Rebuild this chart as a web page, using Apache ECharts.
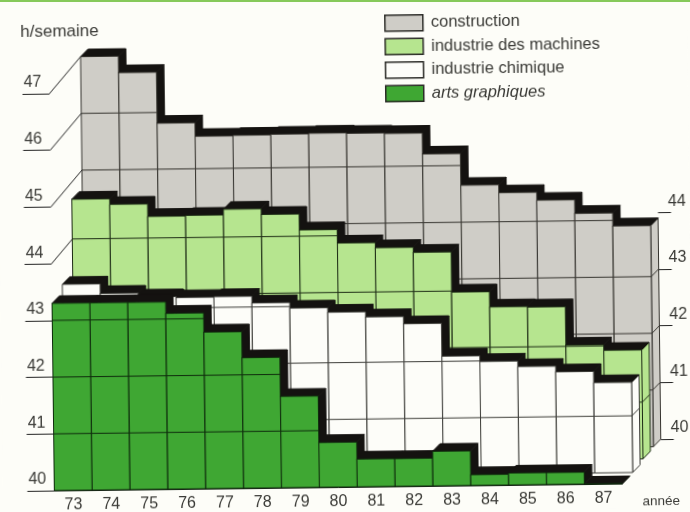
<!DOCTYPE html>
<html lang="fr">
<head>
<meta charset="utf-8">
<title>Durée du travail</title>
<script src="https://cdn.jsdelivr.net/npm/echarts@6/dist/echarts.min.js"></script>
<style>
    html, body { margin: 0; padding: 0; width: 690px; height: 512px; overflow: hidden; background: #fdfdf8; }
    /* le document scanné est légèrement de travers */
    #main { width: 690px; height: 512px; transform: rotate(-0.7deg); transform-origin: 345px 256px; }
    #strip { position: absolute; left: 0; top: 0; width: 690px; height: 2px; background: #86c95a; }
</style>
</head>
<body>
<div id="main"></div>
<div id="strip"></div>
<script type="text/javascript">
    // données
    var years = ['73', '74', '75', '76', '77', '78', '79', '80', '81', '82', '83', '84', '85', '86', '87'];
    var construction = [47.0, 46.71, 45.81, 45.57, 45.58, 45.59, 45.6, 45.59, 45.58, 45.21, 44.65, 44.51, 44.37, 44.13, 43.9];
    var machines = [44.7, 44.6, 44.38, 44.39, 44.49, 44.39, 44.11, 43.87, 43.78, 43.69, 42.98, 42.71, 42.7, 42.02, 41.92];
    var chimique = [43.44, 43.27, 43.2, 43.18, 43.19, 43.07, 42.97, 42.89, 42.8, 42.67, 42.09, 41.99, 41.89, 41.79, 41.59];
    var graphiques = [43.3, 43.3, 43.3, 43.1, 42.76, 42.3, 41.61, 40.79, 40.49, 40.49, 40.61, 40.19, 40.21, 40.21, 40.0];
    var gridValues = [41, 42, 43, 44, 45, 46, 47];
    var leftTicks = [40, 41, 42, 43, 44, 45, 46, 47];
    var leaderTicks = [44, 45, 46, 47];
    var rightTicks = [40, 41, 42, 43, 44];

    var baseX = 51.5, baseY = 487, plotW = 568, plotH = 397;
    var depth = 7.5;
    var black = '#141210';

    function gridAt(dx, dy) {
        return { left: baseX + dx, top: baseY + dy - plotH, width: plotW, height: plotH };
    }

    // une barre : face avant, dessus noir, côté noir (ou clair pour la dernière)
    function barRenderer(fill, line) {
        return function (params, api) {
            var i = api.value(0), v = api.value(1);
            var w = api.size([1, 0])[0];
            var top = api.coord([i, v]);
            var bot = api.coord([i, 40]);
            var x0 = top[0] - w / 2, x1 = top[0] + w / 2, y = top[1], yb = bot[1];
            var last = params.dataIndex === years.length - 1;
            var kids = [];
            kids.push({
                type: 'polygon',
                shape: { points: [[x1, y], [x1 + depth, y - depth], [x1 + depth, yb - depth], [x1, yb]] },
                style: { fill: last ? fill : black, stroke: last ? line : black, lineWidth: 1 }
            });
            kids.push({
                type: 'polygon',
                shape: { points: [[x0, y], [x0 + depth, y - depth], [x1 + depth, y - depth], [x1, y]] },
                style: { fill: black, stroke: black, lineWidth: 1 }
            });
            kids.push({
                type: 'rect',
                shape: { x: x0, y: y, width: x1 - x0, height: yb - y },
                style: { fill: fill, stroke: line, lineWidth: 1 }
            });
            gridValues.forEach(function (g) {
                if (g >= v) return;
                var gy = api.coord([i, g])[1];
                kids.push({
                    type: 'line',
                    shape: { x1: x0, y1: gy, x2: x1, y2: gy },
                    style: { stroke: line, lineWidth: 1 }
                });
                if (last) {
                    kids.push({
                        type: 'line',
                        shape: { x1: x1, y1: gy, x2: x1 + depth, y2: gy - depth },
                        style: { stroke: line, lineWidth: 1 }
                    });
                }
            });
            return { type: 'group', children: kids };
        };
    }

    function layerSeries(name, values, idx, fill, line, z) {
        return {
            name: name,
            type: 'custom',
            xAxisIndex: idx,
            yAxisIndex: idx,
            z: z,
            animation: false,
            itemStyle: { color: fill, borderColor: '#2a2a26', borderWidth: 1.5 },
            renderItem: barRenderer(fill, line),
            encode: { x: 0, y: 1 },
            data: values.map(function (v, i) { return [i, v]; })
        };
    }

    function hiddenX(idx) {
        return { gridIndex: idx, type: 'category', data: years, show: false };
    }
    function hiddenY(idx) {
        return { gridIndex: idx, type: 'value', min: 40, max: 47, interval: 1, show: false, splitLine: { show: false } };
    }

    var textColor = '#3a3a36';
    var myChart = echarts.init(document.getElementById('main'));

    var option = {
        animation: false,
        backgroundColor: '#fdfdf8',
        textStyle: { fontFamily: 'Liberation Sans' },
        title: {
            text: 'h/semaine',
            left: 18,
            top: 15,
            textStyle: { fontSize: 17, fontWeight: 'normal', color: textColor, fontFamily: 'Liberation Sans' }
        },
        legend: {
            orient: 'vertical',
            left: 382,
            top: 10,
            itemWidth: 38,
            itemHeight: 16,
            itemGap: 6,
            itemStyle: { borderColor: '#2a2a26', borderWidth: 1.5 },
            textStyle: { fontSize: 16.5, color: textColor, fontFamily: 'Liberation Sans', padding: [0, 0, 0, 3] },
            data: [
                { name: 'construction', icon: 'rect' },
                { name: 'industrie des machines', icon: 'rect' },
                { name: 'industrie chimique', icon: 'rect' },
                { name: 'arts graphiques', icon: 'rect', textStyle: { fontStyle: 'italic' } }
            ]
        },
        grid: [
            gridAt(0, 0),                     // arts graphiques
            gridAt(10.5, -11),                // industrie chimique
            gridAt(21, -24.5),                // industrie des machines
            gridAt(31.5, -36.5),              // construction
            gridAt(31.5 + depth, -36.5 - depth)  // axe de droite, au fond
        ],
        xAxis: [
            {
                gridIndex: 0,
                type: 'category',
                data: years,
                axisTick: { show: false },
                axisLine: { lineStyle: { color: '#222', width: 1 } },
                axisLabel: { fontSize: 16, color: textColor, margin: 7, interval: 0 },
                name: 'année',
                nameLocation: 'end',
                nameGap: 20,
                nameTextStyle: { fontSize: 13.5, color: textColor, verticalAlign: 'top', padding: [11, 0, 0, 0] }
            },
            hiddenX(1), hiddenX(2), hiddenX(3), hiddenX(4)
        ],
        yAxis: [
            {
                gridIndex: 0,
                type: 'value',
                min: 40,
                max: 47,
                interval: 1,
                splitLine: { show: false },
                axisLine: { show: false },
                axisTick: { show: true, length: 27, customValues: leftTicks, lineStyle: { color: '#222', width: 1 } },
                axisLabel: { fontSize: 16, color: textColor, margin: 8, customValues: leftTicks, verticalAlign: 'bottom', padding: [0, 0, 3, 0] }
            },
            hiddenY(1), hiddenY(2), hiddenY(3),
            {
                gridIndex: 4,
                type: 'value',
                position: 'right',
                min: 40,
                max: 47,
                interval: 1,
                splitLine: { show: false },
                axisLine: { show: false },
                axisTick: { show: true, length: 13, customValues: rightTicks, lineStyle: { color: '#222', width: 1 } },
                axisLabel: { fontSize: 16, color: textColor, margin: 10, customValues: rightTicks, verticalAlign: 'bottom', padding: [0, 0, 3, 0] }
            }
        ],
        series: [
            layerSeries('construction', construction, 3, '#cfcdc7', '#35332e', 2),
            {
                // traits obliques qui relient l'axe de gauche à la couche du fond
                type: 'custom',
                xAxisIndex: 0,
                yAxisIndex: 0,
                z: 3,
                silent: true,
                legendHoverLink: false,
                renderItem: function (params, api) {
                    var w = api.size([1, 0])[0];
                    var p = api.coord([0, api.value(0)]);
                    var x = p[0] - w / 2;
                    return {
                        type: 'line',
                        shape: { x1: x, y1: p[1], x2: x + 31.5, y2: p[1] - 36.5 },
                        style: { stroke: '#222', lineWidth: 1 }
                    };
                },
                encode: { y: 0 },
                data: leaderTicks.map(function (t) { return [t]; })
            },
            layerSeries('industrie des machines', machines, 2, '#b6e58f', '#1c2a14', 4),
            layerSeries('industrie chimique', chimique, 1, '#fdfdf9', '#3c3c38', 5),
            layerSeries('arts graphiques', graphiques, 0, '#3fa733', '#0e2a0c', 6)
        ]
    };

    myChart.setOption(option);
</script>
</body>
</html>
